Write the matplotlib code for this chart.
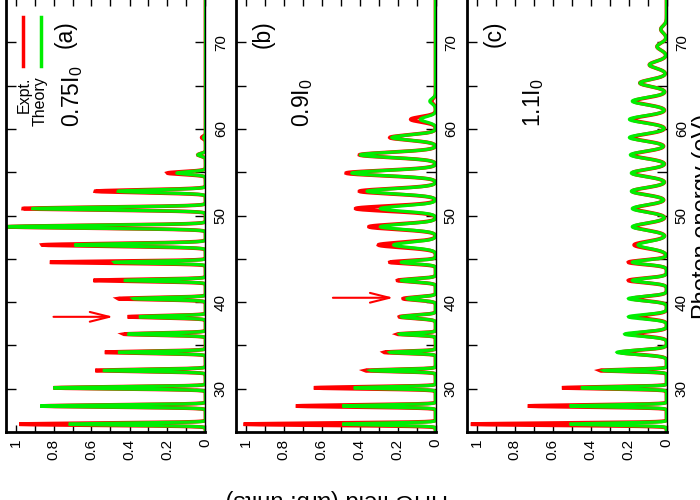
import numpy as np
import matplotlib
matplotlib.use("Agg")
import matplotlib.pyplot as plt
from matplotlib.ticker import FixedLocator, FuncFormatter

plt.rcParams['font.family'] = ['Liberation Sans', 'DejaVu Sans']
plt.rcParams['mathtext.fontset'] = 'custom'
plt.rcParams['mathtext.rm'] = 'Liberation Sans'
plt.rcParams['mathtext.default'] = 'rm'

# Harmonic peak positions (eV)
harmonic_eV = [25.9, 28.0, 30.1, 32.1, 34.2, 36.3, 38.3, 40.4, 42.5, 44.6, 46.6, 48.7,
               50.8, 52.8, 54.9, 57.0, 59.0, 61.1, 63.2, 65.3, 67.4, 69.5, 71.5]

# (a) 0.75 I0
expt_a = [0.98, 0.86, 0.80, 0.58, 0.53, 0.43, 0.41, 0.46, 0.59, 0.82, 0.86, 1.04,
          0.96, 0.58, 0.20, 0.04, 0.02, 0, 0, 0, 0, 0, 0]
theory_a = [0.72, 0.87, 0.80, 0.54, 0.46, 0.41, 0.35, 0.38, 0.43, 0.48, 0.69, 1.05,
            0.91, 0.46, 0.15, 0.04, 0.01, 0, 0, 0, 0, 0, 0]
width_a = [0.12] * 10 + [0.16] * 13

# (b) 0.9 I0
expt_b = [1.01, 0.735, 0.64, 0.37, 0.27, 0.20, 0.19, 0.17, 0.20, 0.24, 0.30, 0.35,
          0.42, 0.40, 0.47, 0.40, 0.24, 0.13, 0.02, 0, 0, 0, 0]
theory_b = [0.49, 0.49, 0.43, 0.34, 0.24, 0.19, 0.18, 0.15, 0.18, 0.18, 0.22, 0.29,
            0.29, 0.36, 0.44, 0.395, 0.23, 0.08, 0.03, 0, 0, 0, 0]
width_b = [0.12] * 6 + [0.18] * 4 + [0.3] * 13

# (c) 1.1 I0
expt_c = [1.03, 0.73, 0.55, 0.35, 0.24, 0.18, 0.15, 0.18, 0.20, 0.20, 0.17, 0.17,
          0.17, 0.18, 0.18, 0.18, 0.18, 0.18, 0.17, 0.14, 0.09, 0.05, 0.03]
theory_c = [0.51, 0.51, 0.45, 0.33, 0.26, 0.22, 0.20, 0.20, 0.18, 0.18, 0.15, 0.18,
            0.18, 0.185, 0.185, 0.19, 0.195, 0.195, 0.18, 0.14, 0.09, 0.05, 0.03]
width_c = [0.12] * 4 + [0.25] * 6 + [0.4] * 13

panels = [
    ("(a)", "0.75", expt_a, theory_a, width_a, 0.74, (38.3, 0.80, 0.484)),
    ("(b)", "0.9", expt_b, theory_b, width_b, 0.905, (40.5, 0.54, 0.22)),
    ("(c)", "1.1", expt_c, theory_c, width_c, 0.905, None),
]

energy = np.linspace(25, 75, 4000)


def spectrum(heights, widths):
    y = np.zeros_like(energy)
    for e0, h, w in zip(harmonic_eV, heights, widths):
        y += h * np.exp(-0.5 * ((energy - e0) / w) ** 2)
    return y


fig = plt.figure(figsize=(7, 5), dpi=100)
lefts = [6, 236, 467]
for (tag, inten, expt, theory, widths, tag_x, arrow), left in zip(panels, lefts):
    ax = fig.add_axes([left / 700, 68 / 500, 199.5 / 700, 433 / 500])
    ax.plot(spectrum(expt, widths), energy, color='#ff0000', lw=2.7, solid_joinstyle='miter')
    ax.plot(spectrum(theory, widths), energy, color='#00ee00', lw=2.3, solid_joinstyle='miter')
    ax.set_xlim(1.05, 0)
    ax.set_ylim(25, 75)

    for s in ['left', 'bottom']:
        ax.spines[s].set_linewidth(2)
    ax.spines['right'].set_linewidth(1)
    ax.spines['top'].set_visible(False)

    ax.xaxis.set_major_locator(FixedLocator([0, 0.2, 0.4, 0.6, 0.8, 1.0]))
    ax.xaxis.set_minor_locator(FixedLocator([0.1, 0.3, 0.5, 0.7, 0.9]))
    ax.xaxis.set_major_formatter(FuncFormatter(lambda v, p: "%g" % round(v, 1)))
    ax.tick_params(axis='x', which='both', direction='in', top=True, bottom=True,
                   length=5, width=1, labelsize=11, pad=5)
    ax.yaxis.set_major_locator(FixedLocator([30, 40, 50, 60, 70]))
    ax.yaxis.set_minor_locator(FixedLocator([35, 45, 55, 65]))
    ax.yaxis.tick_right()
    ax.tick_params(axis='y', which='both', direction='in', left=True, right=True,
                   labelleft=False, labelright=True, length=7, width=1, labelsize=11, pad=6)
    plt.setp(ax.get_xticklabels(), rotation=90, ha='center', va='top')
    plt.setp(ax.get_yticklabels(), rotation=90, ha='left', va='center')

    ax.text(tag_x, 71.0, tag, rotation=90, ha='center', va='center', fontsize=16.5)
    ax.text(0.665, 60.2, inten + r"I$_0$", rotation=90, rotation_mode='anchor',
            ha='left', va='baseline', fontsize=16.5)

    if arrow is not None:
        e, v0, v1 = arrow
        ax.annotate('', xy=(v1, e), xytext=(v0, e),
                    arrowprops=dict(arrowstyle='->,head_length=1.4,head_width=0.35',
                                    color='#ff0000', lw=1.5, shrinkA=0, shrinkB=0))

    if tag == "(a)":
        # rotated key
        ax.plot([0.958, 0.958], [67.3, 72.9], color='#ff0000', lw=2.5)
        ax.plot([0.868, 0.868], [67.3, 72.9], color='#00ee00', lw=2.5)
        ax.text(0.93, 66.1, "Expt.", rotation=90, rotation_mode='anchor',
                ha='right', va='baseline', fontsize=11.5)
        ax.text(0.845, 66.1, "Theory", rotation=90, rotation_mode='anchor',
                ha='right', va='baseline', fontsize=11.5)

fig.text(337 / 700, 1 - 489 / 500, "HHG field (arb. units)", rotation=180,
         ha='center', va='top', fontsize=17)
fig.text(692 / 700, 1 - 216 / 500, "Photon energy (eV)", rotation=90,
         ha='left', va='center', fontsize=17)

fig.savefig("out.png", dpi=100)
